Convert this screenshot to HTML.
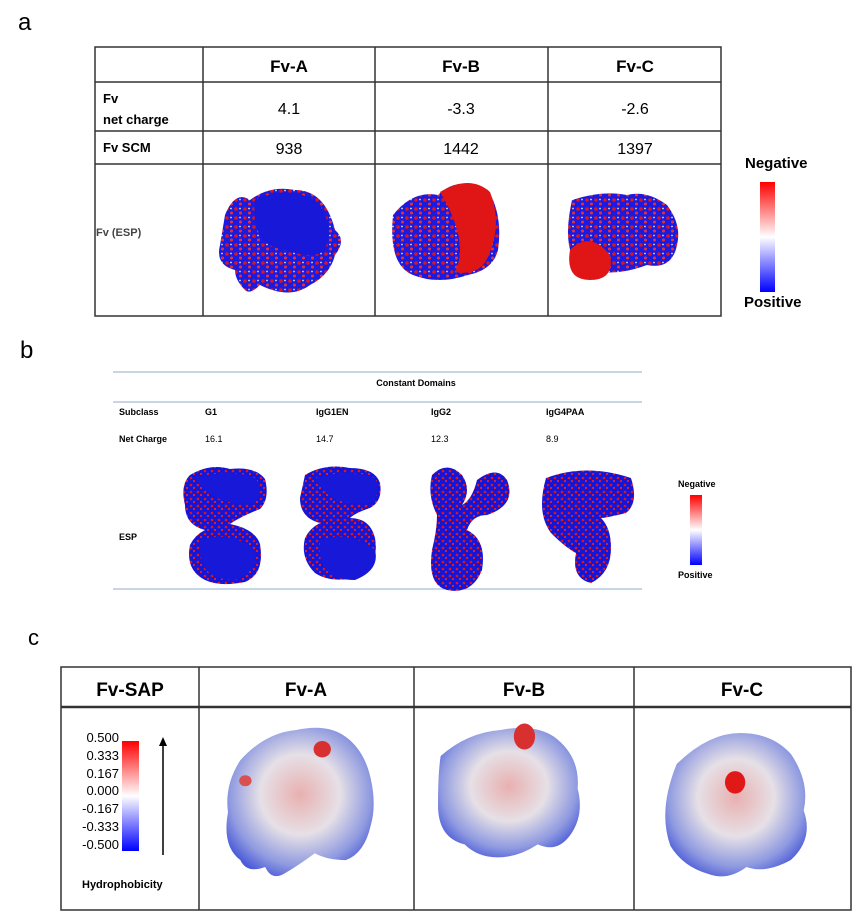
<!DOCTYPE html>
<html><head><meta charset="utf-8"><style>
body{margin:0;background:#fff;width:866px;height:919px;position:relative;overflow:hidden;font-family:"Liberation Sans",sans-serif}
</style></head><body>
<svg width="866" height="919" style="position:absolute;left:0;top:0" font-family="Liberation Sans, sans-serif">
<defs>
<pattern id="rb" width="9" height="9" patternUnits="userSpaceOnUse">
<rect width="9" height="9" fill="#1a1ae0"/>
<circle cx="2" cy="2" r="1.8" fill="#e01515"/><circle cx="6.5" cy="6" r="1.5" fill="#e83030"/><circle cx="6" cy="1.5" r="0.9" fill="#ddd"/>
</pattern>
<pattern id="rb2" width="7" height="7" patternUnits="userSpaceOnUse">
<rect width="7" height="7" fill="#1515d8"/>
<circle cx="2" cy="2" r="1.3" fill="#e01515"/><circle cx="5" cy="5" r="1.1" fill="#e82020"/>
</pattern>
<linearGradient id="esp" x1="0" y1="0" x2="0" y2="1">
<stop offset="0" stop-color="#ff0000"/><stop offset="0.5" stop-color="#fff"/><stop offset="1" stop-color="#0000ff"/></linearGradient>
<radialGradient id="sap" cx="0.5" cy="0.45" r="0.6">
<stop offset="0" stop-color="#e8b0b0"/><stop offset="0.45" stop-color="#e6e0e6"/><stop offset="0.8" stop-color="#8f9ae0"/><stop offset="1" stop-color="#4a5ad8"/></radialGradient>
</defs>
<text x="18" y="30" font-size="24">a</text>
<g stroke="#333" stroke-width="1.5" fill="none">
<rect x="95" y="47" width="626" height="269"/>
<line x1="95" y1="82" x2="721" y2="82"/><line x1="95" y1="131" x2="721" y2="131"/><line x1="95" y1="164" x2="721" y2="164"/>
<line x1="203" y1="47" x2="203" y2="316"/><line x1="375" y1="47" x2="375" y2="316"/><line x1="548" y1="47" x2="548" y2="316"/>
</g>
<g font-size="17" font-weight="bold" text-anchor="middle"><text x="289" y="72">Fv-A</text><text x="461" y="72">Fv-B</text><text x="635" y="72">Fv-C</text></g>
<g font-size="13" font-weight="bold"><text x="103" y="103">Fv</text><text x="103" y="124">net charge</text><text x="103" y="152">Fv SCM</text></g>
<text x="96" y="236" font-size="11" font-weight="bold" fill="#444">Fv (ESP)</text>
<g font-size="16" text-anchor="middle"><text x="289" y="114">4.1</text><text x="461" y="114">-3.3</text><text x="635" y="114">-2.6</text>
<text x="289" y="154">938</text><text x="461" y="154">1442</text><text x="635" y="154">1397</text></g>
<path d="M225 215 q10-25 25-15 q20-15 45-10 q30 0 40 40 q12 10 0 25 q-5 20-25 30 q-20 15-50 0 q-10 10-15 5 q-10-10-10-20 q-20-5-15-25 z" fill="url(#rb)"/>
<path d="M255 200 q30-15 60 0 q20 20 10 50 q-10 10-40 0 q-35-5-30-50z" fill="#1818d8"/>
<path d="M393 215 q20-25 45-20 q20-20 50-5 q15 25 10 60 q-5 20-30 25 q-30 10-55 0 q-25-10-20-60z" fill="url(#rb)"/>
<path d="M440 192 q30-18 50 0 q12 30 0 60 q-8 25-35 20 q15-30-15-80z" fill="#e01515"/>
<path d="M572 200 q30-10 55-5 q20-5 40 10 q15 20 10 40 q-5 25-30 20 q-40 15-70 0 q-15-20-5-65z" fill="url(#rb)"/>
<path d="M570 250 q20-20 40 5 q5 25-20 25 q-25 0-20-30z" fill="#e01515"/>
<text x="745" y="168" font-size="15" font-weight="bold">Negative</text>
<rect x="760" y="182" width="15" height="110" fill="url(#esp)"/>
<text x="744" y="307" font-size="15" font-weight="bold">Positive</text>

<text x="20" y="358" font-size="24">b</text>
<g stroke="#a8bcd8" stroke-width="1.2"><line x1="113" y1="372" x2="642" y2="372"/><line x1="113" y1="402" x2="642" y2="402"/><line x1="113" y1="589" x2="642" y2="589"/></g>
<text x="416" y="386" font-size="9" font-weight="bold" text-anchor="middle">Constant Domains</text>
<g font-size="9" font-weight="bold"><text x="119" y="415">Subclass</text><text x="205" y="415">G1</text><text x="316" y="415">IgG1EN</text><text x="431" y="415">IgG2</text><text x="546" y="415">IgG4PAA</text>
<text x="119" y="442">Net Charge</text><text x="119" y="540">ESP</text></g>
<g font-size="9"><text x="205" y="442">16.1</text><text x="316" y="442">14.7</text><text x="431" y="442">12.3</text><text x="546" y="442">8.9</text></g>
<g fill="url(#rb2)">
<path d="M190 475 q20-12 40-6 q25-3 35 10 q5 20-5 30 q-20 8-30 15 q25 5 30 20 q5 30-15 38 q-25 5-40-2 q-20-10-15-35 q5-10 15-15 q-20-5-20-25 q-5-20 5-30z"/>
<path d="M305 475 q20-12 45-7 q25 0 30 15 q3 18-10 25 q-15 5-20 10 q20 0 25 20 q5 30-20 40 q-25 5-40-5 q-15-15-10-35 q5-10 15-15 q-20-5-20-25z"/>
<path d="M432 475 q15-15 30 0 q10 15 0 30 q10-5 15-25 q20-15 30 0 q10 25-20 35 q-15 0-20 15 q20 10 15 40 q-10 25-35 20 q-20-5-15-40 q5-20 5-35 q-10-20-5-40z"/>
<path d="M546 478 q40-15 85 0 q8 25-5 35 q-20 5-25 5 q10 10 10 30 q0 25-20 35 q-20-5-15-30 q-10-5-25-20 q-15-20-5-55z"/>
</g>
<path d="M195 478 q35-10 60 0 q10 10 0 25 q-40 5-60-25z" fill="#1818d8"/>
<path d="M315 478 q35-10 60 0 q8 15-5 25 q-40 5-55-25z" fill="#1818d8"/>
<path d="M200 540 q30-10 55 10 q5 20-20 30 q-40 0-35-40z" fill="#1818d8"/>
<path d="M320 540 q30-10 55 10 q5 20-20 30 q-40 0-35-40z" fill="#1818d8"/>
<text x="678" y="487" font-size="9" font-weight="bold">Negative</text>
<rect x="690" y="495" width="12" height="70" fill="url(#esp)"/>
<text x="678" y="578" font-size="9" font-weight="bold">Positive</text>

<text x="28" y="645" font-size="22">c</text>
<g stroke="#333" stroke-width="1.5" fill="none">
<rect x="61" y="667" width="790" height="243"/>
<line x1="61" y1="707" x2="851" y2="707" stroke-width="2.5"/>
<line x1="199" y1="667" x2="199" y2="910"/><line x1="414" y1="667" x2="414" y2="910"/><line x1="634" y1="667" x2="634" y2="910"/>
</g>
<g font-size="19" font-weight="bold" text-anchor="middle"><text x="130" y="696">Fv-SAP</text><text x="306" y="696">Fv-A</text><text x="524" y="696">Fv-B</text><text x="742" y="696">Fv-C</text></g>
<g font-size="13" text-anchor="end"><text x="119" y="742">0.500</text><text x="119" y="760">0.333</text><text x="119" y="778">0.167</text><text x="119" y="795">0.000</text><text x="119" y="813">-0.167</text><text x="119" y="831">-0.333</text><text x="119" y="849">-0.500</text></g>
<rect x="122" y="741" width="17" height="110" fill="url(#esp)"/>
<line x1="163" y1="855" x2="163" y2="745" stroke="#000" stroke-width="1.5"/><path d="M159 746 l4-9 l4 9z"/>
<text x="82" y="888" font-size="11" font-weight="bold">Hydrophobicity</text>
<g transform="translate(228 730) scale(1.24 1.37) translate(-230 -738)">
<path d="M240 760 q20-20 45-22 q25-5 40 5 q15 10 20 30 q5 20 0 35 q-5 20-20 25 q-15 0-25-5 q-15 10-25 15 q-10 5-15-5 q-15 5-20-5 q-15-10-10-35 q-3-20 10-38z" fill="url(#sap)"/>
<ellipse cx="306" cy="752" rx="7" ry="6" fill="#d83030"/><ellipse cx="244" cy="775" rx="5" ry="4" fill="#d85050"/>
</g>
<g transform="translate(438 730) scale(1.33 1.3) translate(-453 -740)">
<path d="M455 760 q20-18 45-20 q25-5 40 5 q20 15 18 40 q5 20-5 35 q-10 15-25 8 q-15 10-30 10 q-15 0-25-10 q-20-5-20-30 q0-25 2-38z" fill="url(#sap)"/>
<ellipse cx="518" cy="745" rx="8" ry="10" fill="#d83030"/>
</g>
<g transform="translate(664 733) scale(1.27 1.41) translate(-658 -743)">
<path d="M668 765 q25-22 50-22 q25 0 40 15 q15 20 10 40 q8 20-10 35 q-20 10-35 5 q-15 10-30 5 q-20-5-30-20 q-10-25 5-58z" fill="url(#sap)"/>
<ellipse cx="714" cy="778" rx="8" ry="8" fill="#e01818"/>
</g>
</svg>
</body></html>
